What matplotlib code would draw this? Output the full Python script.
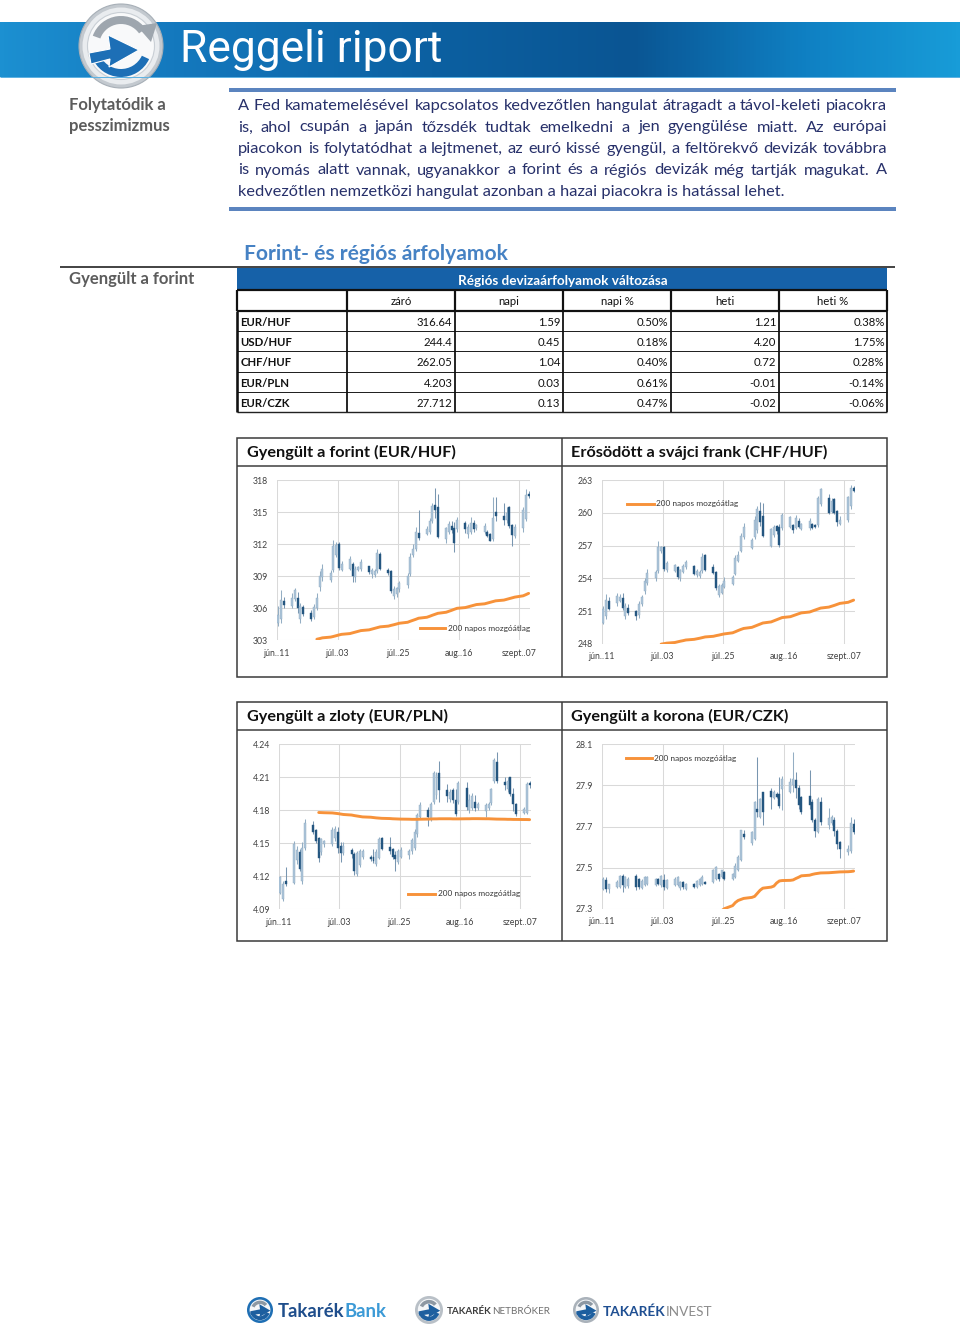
import datetime as dt
import numpy as np
import pandas as pd
import matplotlib
matplotlib.use('Agg')
import matplotlib.pyplot as plt
import matplotlib.dates as mdates
from matplotlib.patches import Rectangle, Circle, Polygon, Wedge
from matplotlib.lines import Line2D
from matplotlib.colors import LinearSegmentedColormap

FONT = ['Lato', 'DejaVu Sans']
plt.rcParams['font.family'] = FONT

# ---------------------------------------------------------------- data
trade_start = '2014-06-11'
trade_end = '2014-09-10'
xtick_dates = ['2014-06-11', '2014-07-03', '2014-07-25', '2014-08-16', '2014-09-07']
xtick_labels = ['jún..11', 'júl..03', 'júl..25', 'aug..16', 'szept..07']

eurhuf_open = [304.6, 305.0, 306.7, 306.2, 306.9, 307.0, 305.0, 306.1, 305.6, 305.2, 306.0, 308.0, 308.9,
               308.7, 309.6, 311.0, 312.0, 309.6, 309.7, 310.2, 308.9, 309.6, 309.7, 310.0, 309.2, 309.1, 309.5, 311.1,
               309.6, 309.5, 307.2, 307.3, 307.8, 308.2, 309.2, 311.0, 311.6, 313.1, 313.0, 313.2, 314.2, 315.7, 315.5,
               312.5, 313.2, 313.7, 313.5, 313.4, 314.0, 313.0, 313.2, 314.0, 313.5, 313.2, 313.2, 313.0, 312.5, 315.0,
               314.7, 314.3, 315.5, 313.8, 312.8, 313.5, 314.4, 316.7]
eurhuf_high = [306.2, 307.7, 307.1, 307.4, 307.9, 307.5, 306.5, 306.3, 305.8, 306.4, 307.4, 309.5, 310.2,
               309.6, 312.4, 312.2, 312.2, 310.4, 310.9, 310.3, 310.0, 310.0, 310.6, 310.0, 309.8, 309.7, 311.6, 311.3,
               309.8, 309.6, 308.1, 308.0, 308.6, 309.3, 311.2, 312.0, 313.6, 315.2, 313.7, 314.5, 315.9, 317.3, 316.7,
               313.6, 314.2, 314.2, 314.1, 314.6, 314.2, 313.9, 314.6, 314.3, 313.9, 314.0, 313.3, 313.1, 316.4, 316.4,
               315.9, 315.5, 315.6, 313.9, 313.9, 315.5, 317.2, 317.0]
eurhuf_low = [304.3, 304.6, 306.0, 306.0, 306.7, 305.6, 304.6, 305.3, 304.8, 305.0, 305.8, 307.6, 308.6,
              308.5, 309.4, 310.8, 309.6, 309.5, 309.6, 308.5, 308.5, 309.5, 309.5, 309.2, 308.8, 308.9, 309.3, 309.6,
              309.1, 307.4, 306.9, 307.1, 307.5, 307.9, 309.0, 310.8, 311.4, 312.4, 312.9, 313.0, 314.0, 314.5, 312.6,
              312.1, 313.0, 313.1, 311.3, 313.2, 313.1, 312.6, 313.0, 313.2, 313.3, 313.0, 312.7, 312.3, 312.3, 314.2,
              313.8, 314.0, 313.5, 311.8, 312.6, 313.2, 314.2, 316.3]
eurhuf_close = [305.4, 306.8, 306.3, 307.0, 307.7, 306.0, 306.2, 305.5, 305.0, 306.1, 307.0, 309.0, 309.7,
                309.3, 311.8, 311.9, 309.8, 310.2, 310.6, 309.0, 309.7, 309.9, 310.3, 309.4, 309.6, 309.5, 311.2, 309.7,
                309.3, 307.6, 307.8, 307.9, 308.4, 309.0, 310.8, 311.6, 313.2, 312.6, 313.4, 314.2, 315.6, 315.2, 312.7,
                313.5, 313.9, 313.3, 312.1, 314.3, 313.4, 313.6, 314.0, 313.4, 313.8, 313.7, 312.8, 312.3, 314.5, 314.7,
                314.3, 314.9, 313.7, 312.9, 313.6, 315.2, 316.6, 316.5]
eurhuf_ma_start = '2014-06-25'
eurhuf_ma = [303.10, 303.16, 303.23, 303.30, 303.36, 303.43, 303.50,
             303.56, 303.63, 303.70, 303.77, 303.84, 303.91, 303.98, 304.05, 304.12, 304.19, 304.26, 304.33,
             304.40, 304.46, 304.53, 304.60,
             304.69, 304.79, 304.88, 304.97, 305.07, 305.16, 305.25, 305.35, 305.44, 305.53, 305.63, 305.72,
             305.81, 305.91, 306.00,
             306.07, 306.14, 306.21, 306.28, 306.35, 306.42, 306.49, 306.56, 306.63, 306.70, 306.77, 306.84,
             306.91, 306.98, 307.05,
             307.17, 307.28, 307.40]

chfhuf_open = [249.9, 250.5, 251.9, 251.7, 251.9, 252.2, 250.5, 251.3, 251.0, 250.6, 251.6, 252.8, 253.6,
               254.0, 254.7, 256.5, 256.9, 254.8, 254.7, 255.0, 254.0, 254.6, 255.0, 255.1, 254.3, 254.2, 254.7, 256.1,
               255.0, 254.6, 252.5, 252.7, 253.2, 253.5, 254.4, 255.6, 256.5, 257.8, 256.8, 257.8, 258.4, 260.2, 259.7,
               257.0, 258.0, 258.8, 258.7, 258.6, 258.7, 258.9, 258.6, 259.3, 258.5, 258.6, 259.0, 258.9, 258.9, 260.8,
               261.4, 260.1, 261.3, 260.2, 259.0, 259.4, 260.6, 262.3]
chfhuf_high = [251.5, 252.6, 252.3, 252.7, 252.6, 252.7, 251.7, 251.6, 251.1, 251.9, 252.5, 254.0, 254.9,
               254.8, 257.4, 257.0, 257.0, 255.6, 255.3, 255.1, 254.9, 255.3, 255.7, 255.2, 254.9, 254.8, 256.3, 256.2,
               255.3, 254.7, 253.5, 253.6, 254.1, 254.3, 256.1, 256.5, 258.2, 259.1, 257.7, 259.7, 260.6, 261.0, 260.9,
               258.6, 258.9, 258.9, 259.0, 260.0, 259.7, 259.0, 259.8, 259.5, 259.1, 259.5, 259.1, 259.0, 261.6, 262.3,
               261.7, 261.4, 261.4, 260.3, 259.7, 261.6, 262.6, 262.5]
chfhuf_low = [249.8, 250.3, 251.1, 251.5, 251.8, 251.1, 250.3, 250.6, 250.2, 250.4, 251.5, 252.6, 253.4,
              253.8, 254.5, 256.3, 254.7, 254.6, 254.6, 253.9, 253.8, 254.5, 254.9, 254.3, 254.1, 254.0, 254.5, 254.7,
              254.4, 252.9, 252.3, 252.6, 253.1, 253.4, 254.3, 255.5, 256.4, 257.6, 256.7, 257.6, 258.2, 258.8, 257.8,
              256.9, 257.8, 258.1, 256.9, 258.4, 258.6, 258.2, 258.5, 258.6, 258.4, 258.4, 258.5, 258.6, 258.7, 260.6,
              259.9, 260.0, 259.9, 258.8, 258.9, 259.2, 260.4, 261.9]
chfhuf_close = [251.2, 252.0, 251.2, 252.4, 252.3, 251.3, 251.5, 250.8, 250.5, 251.6, 252.3, 253.8, 254.5,
                254.6, 256.9, 256.9, 254.9, 255.4, 255.2, 254.1, 254.8, 255.1, 255.5, 254.4, 254.7, 254.6, 256.0, 254.8,
                254.5, 253.1, 253.3, 253.4, 253.8, 254.1, 255.9, 256.1, 257.9, 258.7, 257.5, 259.4, 260.4, 259.2, 257.9,
                258.5, 258.7, 258.3, 257.1, 259.8, 259.6, 258.4, 259.5, 258.7, 259.0, 259.3, 258.6, 258.7, 261.4, 262.2,
                260.0, 261.1, 260.0, 259.2, 259.4, 261.5, 262.3, 262.0]
chfhuf_ma_start = '2014-07-02'
chfhuf_ma = [247.96, 248.00,
             248.05, 248.11, 248.17, 248.23, 248.28, 248.34, 248.40, 248.45, 248.50, 248.56, 248.62, 248.68,
             248.74, 248.79, 248.85, 248.90,
             249.00, 249.10, 249.21, 249.31, 249.40, 249.50, 249.60, 249.70, 249.80, 249.90, 250.00, 250.10,
             250.20, 250.30, 250.40,
             250.48, 250.57, 250.66, 250.75, 250.83, 250.91, 251.00, 251.09, 251.18, 251.27, 251.36, 251.44,
             251.52, 251.61, 251.70,
             251.80, 251.90, 252.00]

eurpln_open = [4.105, 4.099, 4.116, 4.114, 4.135, 4.142, 4.116, 4.146, 4.167, 4.162, 4.155, 4.142, 4.149,
               4.149, 4.155, 4.160, 4.148, 4.141, 4.144, 4.140, 4.122, 4.130, 4.138, 4.138, 4.138, 4.131, 4.137, 4.155,
               4.147, 4.145, 4.139, 4.133, 4.138, 4.139, 4.143, 4.146, 4.158, 4.174, 4.180, 4.172, 4.188, 4.194, 4.214,
               4.198, 4.190, 4.198, 4.189, 4.188, 4.200, 4.180, 4.182, 4.188, 4.182, 4.179, 4.182, 4.187, 4.207, 4.224,
               4.206, 4.199, 4.210, 4.195, 4.186, 4.178, 4.178, 4.205]
eurpln_high = [4.120, 4.116, 4.128, 4.152, 4.148, 4.145, 4.151, 4.172, 4.170, 4.163, 4.156, 4.155, 4.153,
               4.165, 4.166, 4.165, 4.151, 4.151, 4.146, 4.142, 4.143, 4.145, 4.145, 4.139, 4.145, 4.145, 4.156, 4.156,
               4.156, 4.146, 4.143, 4.145, 4.147, 4.145, 4.155, 4.163, 4.178, 4.188, 4.183, 4.188, 4.216, 4.215, 4.225,
               4.204, 4.199, 4.200, 4.199, 4.207, 4.206, 4.195, 4.196, 4.194, 4.188, 4.187, 4.188, 4.200, 4.228, 4.233,
               4.210, 4.210, 4.210, 4.200, 4.187, 4.183, 4.206, 4.207]
eurpln_low = [4.104, 4.098, 4.111, 4.113, 4.131, 4.125, 4.113, 4.144, 4.158, 4.150, 4.133, 4.139, 4.147,
              4.148, 4.152, 4.141, 4.133, 4.139, 4.137, 4.121, 4.120, 4.128, 4.136, 4.134, 4.132, 4.129, 4.136, 4.144,
              4.140, 4.136, 4.125, 4.131, 4.137, 4.136, 4.140, 4.144, 4.156, 4.172, 4.166, 4.170, 4.186, 4.190, 4.188,
              4.188, 4.188, 4.187, 4.175, 4.186, 4.180, 4.178, 4.180, 4.179, 4.180, 4.174, 4.180, 4.185, 4.205, 4.205,
              4.198, 4.197, 4.193, 4.179, 4.175, 4.177, 4.177, 4.200]
eurpln_close = [4.119, 4.113, 4.113, 4.149, 4.144, 4.127, 4.146, 4.168, 4.160, 4.152, 4.137, 4.154, 4.152,
                4.162, 4.163, 4.146, 4.141, 4.148, 4.140, 4.125, 4.141, 4.143, 4.143, 4.136, 4.134, 4.142, 4.154, 4.145,
                4.143, 4.138, 4.136, 4.143, 4.144, 4.143, 4.153, 4.160, 4.176, 4.185, 4.174, 4.186, 4.214, 4.212, 4.198,
                4.193, 4.197, 4.189, 4.177, 4.205, 4.183, 4.189, 4.193, 4.182, 4.186, 4.185, 4.186, 4.199, 4.226, 4.207,
                4.203, 4.207, 4.195, 4.186, 4.177, 4.181, 4.204, 4.203]
eurpln_ma_start = '2014-06-25'
eurpln_ma = [4.1780, 4.1779, 4.1778, 4.1776, 4.1773, 4.1770, 4.1766,
             4.1762, 4.1757, 4.1752, 4.1748, 4.1744, 4.1740, 4.1737, 4.1734, 4.1731, 4.1729, 4.1727, 4.1725,
             4.1723, 4.1722, 4.1721, 4.1720,
             4.1719, 4.1718, 4.1718, 4.1718, 4.1719, 4.1720, 4.1721, 4.1722, 4.1722, 4.1723, 4.1723, 4.1723,
             4.1722, 4.1722, 4.1722,
             4.1723, 4.1723, 4.1724, 4.1724, 4.1724, 4.1723, 4.1723, 4.1722, 4.1721, 4.1720, 4.1719, 4.1718,
             4.1718, 4.1717, 4.1717,
             4.1716, 4.1716, 4.1715]

eurczk_open = [27.397, 27.438, 27.398, 27.405, 27.405, 27.460, 27.405, 27.410, 27.460, 27.445, 27.400, 27.415, 27.420,
               27.415, 27.445, 27.415, 27.440, 27.400, 27.415, 27.415, 27.400, 27.430, 27.397, 27.420, 27.405, 27.415,
               27.420, 27.430, 27.430, 27.445, 27.470, 27.455, 27.480, 27.445, 27.455, 27.490, 27.535, 27.665, 27.618,
               27.640, 27.787, 27.745, 27.868, 27.875, 27.840, 27.860, 27.860, 27.884, 27.868, 27.900, 27.925, 27.885,
               27.845, 27.850, 27.820, 27.730, 27.675, 27.820, 27.708, 27.715, 27.730, 27.680, 27.625, 27.576, 27.580,
               27.712]
eurczk_high = [27.453, 27.454, 27.421, 27.440, 27.465, 27.470, 27.460, 27.455, 27.468, 27.450, 27.445, 27.458, 27.460,
               27.450, 27.450, 27.465, 27.468, 27.445, 27.455, 27.460, 27.435, 27.435, 27.425, 27.425, 27.440, 27.450,
               27.465, 27.433, 27.495, 27.510, 27.475, 27.490, 27.485, 27.475, 27.520, 27.560, 27.685, 27.682, 27.680,
               27.822, 28.040, 27.840, 27.870, 27.885, 27.880, 27.870, 27.940, 27.945, 27.935, 28.063, 27.965, 27.900,
               27.850, 27.975, 27.835, 27.740, 27.845, 27.845, 27.790, 27.755, 27.745, 27.690, 27.630, 27.608, 27.745,
               27.738]
eurczk_low = [27.389, 27.381, 27.374, 27.400, 27.400, 27.380, 27.400, 27.400, 27.390, 27.395, 27.395, 27.410, 27.415,
              27.410, 27.415, 27.405, 27.390, 27.395, 27.410, 27.410, 27.390, 27.395, 27.390, 27.400, 27.400, 27.410,
              27.415, 27.418, 27.425, 27.440, 27.435, 27.450, 27.440, 27.440, 27.450, 27.485, 27.530, 27.640, 27.610,
              27.635, 27.745, 27.740, 27.705, 27.785, 27.835, 27.840, 27.790, 27.780, 27.865, 27.870, 27.840, 27.785,
              27.760, 27.785, 27.720, 27.650, 27.670, 27.705, 27.690, 27.705, 27.655, 27.590, 27.545, 27.560, 27.570,
              27.665]
eurczk_close = [27.445, 27.397, 27.421, 27.430, 27.460, 27.413, 27.455, 27.445, 27.405, 27.407, 27.437, 27.453, 27.453,
                27.445, 27.420, 27.460, 27.405, 27.440, 27.445, 27.453, 27.430, 27.405, 27.420, 27.405, 27.435, 27.445,
                27.453, 27.422, 27.487, 27.503, 27.445, 27.487, 27.445, 27.470, 27.510, 27.552, 27.682, 27.650, 27.675,
                27.818, 27.771, 27.835, 27.771, 27.845, 27.868, 27.845, 27.802, 27.933, 27.917, 27.930, 27.885, 27.803,
                27.770, 27.803, 27.730, 27.680, 27.835, 27.722, 27.740, 27.745, 27.680, 27.615, 27.592, 27.592, 27.715,
                27.673]
eurczk_ma_start = '2014-07-24'
eurczk_ma = [27.290, 27.300, 27.315, 27.330, 27.340, 27.345, 27.350, 27.355, 27.360, 27.375,
             27.390, 27.400, 27.405, 27.410, 27.425, 27.435, 27.437, 27.438, 27.440, 27.447,
             27.453, 27.460, 27.463, 27.467, 27.470, 27.472, 27.474, 27.475, 27.476, 27.477,
             27.478, 27.479, 27.480, 27.481, 27.483]

table_pairs = ['EUR/HUF', 'USD/HUF', 'CHF/HUF', 'EUR/PLN', 'EUR/CZK']
table_columns = ['záró', 'napi', 'napi %', 'heti', 'heti %']
table_zaro = ['316.64', '244.4', '262.05', '4.203', '27.712']
table_napi = ['1.59', '0.45', '1.04', '0.03', '0.13']
table_napi_pct = ['0.50%', '0.18%', '0.40%', '0.61%', '0.47%']
table_heti = ['1.21', '4.20', '0.72', '-0.01', '-0.02']
table_heti_pct = ['0.38%', '1.75%', '0.28%', '-0.14%', '-0.06%']

paragraph = ['A Fed kamatemelésével kapcsolatos kedvezőtlen hangulat átragadt a távol-keleti piacokra',
             'is, ahol csupán a japán tőzsdék tudtak emelkedni a jen gyengülése miatt. Az európai',
             'piacokon is folytatódhat a lejtmenet, az euró kissé gyengül, a feltörekvő devizák továbbra',
             'is nyomás alatt vannak, ugyanakkor a forint és a régiós devizák még tartják magukat. A',
             'kedvezőtlen nemzetközi hangulat azonban a hazai piacokra is hatással lehet.']

# ---------------------------------------------------------------- page
W, H = 960, 1329
fig = plt.figure(figsize=(W / 100, H / 100), dpi=100)
fig.patch.set_facecolor('white')
bg = fig.add_axes([0, 0, 1, 1])
bg.set_xlim(0, W)
bg.set_ylim(H, 0)
bg.axis('off')
R = fig.canvas.get_renderer()


def tw(s, size, weight='normal', family=None):
    t = bg.text(0, 0, s, fontsize=size, fontweight=weight, family=family or FONT)
    w = t.get_window_extent(renderer=R).width
    t.remove()
    return w


def fit(s, width, weight='normal', family=None):
    return 20.0 * width / tw(s, 20, weight, family)


def hline(x0, x1, y, color, px):
    bg.add_line(Line2D([x0, x1], [y, y], color=color, lw=px * 0.72, solid_capstyle='butt', zorder=5))


def vline(x, y0, y1, color, px):
    bg.add_line(Line2D([x, x], [y0, y1], color=color, lw=px * 0.72, solid_capstyle='butt', zorder=5))


# header band
cmap = LinearSegmentedColormap.from_list('hdr', [(0, '#1c90d1'), (0.18, '#1479be'), (0.45, '#0c60a1'),
                                                 (0.66, '#0a5593'), (0.84, '#0f80c3'), (1, '#189cd8')])
bg.imshow(np.linspace(0, 1, 480)[None, :], extent=[0, W, 77, 22], cmap=cmap, aspect='auto', zorder=1)
hline(0, W, 76.5, '#5fb2e2', 1)

# logo
cx, cy = 121, 46
bg.add_patch(Circle((cx, cy), 42, fc='#c3c9cf', ec='#a7afb7', lw=0.8, zorder=3))
bg.add_patch(Circle((cx, cy), 38.5, fc='#e9ecef', ec='none', zorder=3))
bg.add_patch(Circle((cx, cy), 33.5, fc='#f8f9fa', ec='#c9cfd5', lw=0.8, zorder=3))
bg.add_patch(Wedge((cx, cy), 30, 200, 325, width=8, fc='#9ea6ae', ec='none', zorder=4))
bg.add_patch(Polygon([(137, 26), (157, 23), (151, 42)], closed=True, fc='#9ea6ae', ec='none', zorder=4))
bg.add_patch(Wedge((cx, cy), 31, 25, 160, width=8, fc='#1d6fb6', ec='none', zorder=4))
bg.add_patch(Polygon([(89, 53), (110, 49), (108, 35), (139, 50), (109, 67), (110, 59), (91, 64)],
                     closed=True, fc='#1d6fb6', ec='white', lw=0.8, zorder=5))

# title text in band
s_title = fit('Reggeli riport', 262, 'normal', ['Roboto', 'DejaVu Sans'])
bg.text(180, 62, 'Reggeli riport', fontsize=s_title, color='white', family=['Roboto', 'DejaVu Sans'],
        ha='left', va='baseline', zorder=6)

# left side headings
s_side = fit('Folytatódik a', 97, 'bold')
bg.text(69, 110, 'Folytatódik a', fontsize=s_side, fontweight='bold', color='#5c5c5c', va='baseline')
bg.text(69, 131.5, 'pesszimizmus', fontsize=s_side, fontweight='bold', color='#5c5c5c', va='baseline')
bg.text(69, 284, 'Gyengült a forint', fontsize=s_side, fontweight='bold', color='#5c5c5c', va='baseline')

# paragraph box
hline(229, 896, 89.5, '#5b84bf', 4)
hline(229, 896, 208.5, '#5b84bf', 4)
PX0, PX1 = 238, 887
s_par = fit(paragraph[-1], 549)
s_par = min(s_par, min(fit(l, 647) for l in paragraph[:-1]))
baselines = [110, 131.5, 153, 174.5, 196]
pcol = '#27306a'
for i, line in enumerate(paragraph):
    if i == len(paragraph) - 1:
        bg.text(PX0, baselines[i], line, fontsize=s_par, color=pcol, va='baseline')
        continue
    words = line.split(' ')
    widths = [tw(w, s_par) for w in words]
    gap = (PX1 - PX0 - sum(widths)) / (len(words) - 1)
    x = PX0
    for w, wd in zip(words, widths):
        bg.text(x, baselines[i], w, fontsize=s_par, color=pcol, va='baseline')
        x += wd + gap

# section title
s_sec = fit('Forint- és régiós árfolyamok', 263, 'bold')
bg.text(244, 260.5, 'Forint- és régiós árfolyamok', fontsize=s_sec, fontweight='bold', color='#4682c4',
        va='baseline')
hline(60, 895, 267, '#1a1a1a', 1.6)

# table
cols = [237, 347, 455, 563, 671, 779, 887]
row_y = [310.7, 331.0, 351.3, 371.7, 392.0, 412.3]
bg.add_patch(Rectangle((237, 268), 650, 21.3, fc='#1661a8', ec='none', zorder=2))
s_th = fit('Régiós devizaárfolyamok változása', 209, 'bold')
bg.text(563, 285, 'Régiós devizaárfolyamok változása', fontsize=s_th, fontweight='bold', color='white',
        ha='center', va='baseline', zorder=6)
hline(237, 887, 289.6, '#111111', 2.2)
hline(237, 887, 310.7, '#111111', 2.2)
for x in cols:
    vline(x, 289.6, 310.7, '#111111', 2.2)
for y in row_y[1:-1]:
    hline(237, 887, y, '#222222', 1.0)
hline(237, 887, row_y[-1], '#222222', 1.4)
for x in cols:
    vline(x, 310.7, row_y[-1], '#111111', 2.6 if x == 237 else 1.8)
TS = 8.2
for j, name in enumerate(table_columns):
    bg.text((cols[j + 1] + cols[j + 2]) / 2, 305, name, fontsize=TS, color='#111111', ha='center',
            va='baseline')
data_cols = [table_zaro, table_napi, table_napi_pct, table_heti, table_heti_pct]
for i, pair in enumerate(table_pairs):
    yb = row_y[i] + 15.2
    bg.text(240.5, yb, pair, fontsize=TS, fontweight='bold', color='#111111', va='baseline')
    for j, col in enumerate(data_cols):
        bg.text(cols[j + 2] - 2.5, yb, col[i], fontsize=TS, color='#111111', ha='right', va='baseline')

# chart frames
for (y0, y1, ysep) in [(438, 677, 465.5), (702, 941, 729.5)]:
    bg.add_patch(Rectangle((237, y0), 650, y1 - y0, fc='none', ec='#3a3a3a', lw=1.1, zorder=5))
    vline(562, y0, y1, '#3a3a3a', 1.5)
    hline(237, 887, ysep, '#3a3a3a', 1.5)

s_ct = fit('Gyengült a forint (EUR/HUF)', 208, 'bold')
chart_titles = [(247, 457, 'Gyengült a forint (EUR/HUF)'), (571, 457, 'Erősödött a svájci frank (CHF/HUF)'),
                (247, 721, 'Gyengült a zloty (EUR/PLN)'), (571, 721, 'Gyengült a korona (EUR/CZK)')]
for x, y, t in chart_titles:
    bg.text(x, y, t, fontsize=s_ct, fontweight='bold', color='#111111', va='baseline')

# ---------------------------------------------------------------- candlestick charts
days = pd.bdate_range(trade_start, trade_end)
xdays = mdates.date2num(days.to_pydatetime()) + 0.5
x_left = mdates.date2num(dt.datetime(2014, 6, 11))
x_right = mdates.date2num(dt.datetime(2014, 9, 11))
xticks = mdates.date2num([dt.datetime.strptime(d, '%Y-%m-%d') for d in xtick_dates])
s_leg = fit('200 napos mozgóátlag', 82)

charts = [
    dict(o=eurhuf_open, h=eurhuf_high, l=eurhuf_low, c=eurhuf_close, ma=eurhuf_ma, ma_start=eurhuf_ma_start,
         box=(277, 480.3, 530, 640.3), ylim=(303, 318), yticks=[303, 306, 309, 312, 315, 318], fmt='{:.0f}',
         leg=(420, 445, 628)),
    dict(o=chfhuf_open, h=chfhuf_high, l=chfhuf_low, c=chfhuf_close, ma=chfhuf_ma, ma_start=chfhuf_ma_start,
         box=(602, 480.3, 855, 643.7), ylim=(248, 263), yticks=[248, 251, 254, 257, 260, 263], fmt='{:.0f}',
         leg=(627, 654, 503.5)),
    dict(o=eurpln_open, h=eurpln_high, l=eurpln_low, c=eurpln_close, ma=eurpln_ma, ma_start=eurpln_ma_start,
         box=(279, 744.3, 531, 909.3), ylim=(4.09, 4.24), yticks=[4.09, 4.12, 4.15, 4.18, 4.21, 4.24],
         fmt='{:.2f}', leg=(408, 435, 893.5)),
    dict(o=eurczk_open, h=eurczk_high, l=eurczk_low, c=eurczk_close, ma=eurczk_ma, ma_start=eurczk_ma_start,
         box=(602, 744.3, 855, 908.7), ylim=(27.3, 28.1), yticks=[27.3, 27.5, 27.7, 27.9, 28.1], fmt='{:.1f}',
         leg=(626, 652, 758)),
]

UP, DOWN, WICK = '#adc5d9', '#245680', '#94aec4'
for ch in charts:
    O, Hh, L, C = (np.array(ch[k], dtype=float) for k in ('o', 'h', 'l', 'c'))
    assert len(O) == len(Hh) == len(L) == len(C) == len(days)
    x0, y0, x1, y1 = ch['box']
    ax = fig.add_axes([x0 / W, 1 - y1 / H, (x1 - x0) / W, (y1 - y0) / H])
    ax.set_facecolor('none')
    span = ch['ylim'][1] - ch['ylim'][0]
    up = C >= O
    ax.vlines(xdays, L, Hh, colors=np.where(up, WICK, '#7896b0'), lw=0.75, zorder=2)
    ax.bar(xdays, np.maximum(np.abs(C - O), span * 0.006), bottom=np.minimum(O, C), width=0.72,
           color=np.where(up, UP, DOWN), edgecolor=np.where(up, '#8eaac2', DOWN), lw=0.3, zorder=3)
    ma_days = pd.bdate_range(ch['ma_start'], trade_end)
    assert len(ma_days) == len(ch['ma'])
    ax.plot(mdates.date2num(ma_days.to_pydatetime()) + 0.5, ch['ma'], color='#f7923a', lw=2.1,
            solid_capstyle='round', zorder=4)
    ax.set_xlim(x_left, x_right)
    ax.set_ylim(*ch['ylim'])
    ax.set_xticks(xticks)
    ax.set_xticklabels(xtick_labels)
    ax.set_yticks(ch['yticks'])
    ax.set_yticklabels([ch['fmt'].format(v) for v in ch['yticks']])
    ax.tick_params(length=0, labelsize=6.3, colors='#404040', pad=6.3)
    ax.grid(True, color='#d9d9d9', lw=0.75)
    ax.set_axisbelow(True)
    for s in ax.spines.values():
        s.set_visible(False)
    lx0, lx1, ly = ch['leg']
    ax.add_line(Line2D([lx0, lx1], [ly, ly], color='#f7923a', lw=2.1, transform=bg.transData, clip_on=False,
                       zorder=6))
    ax.text(lx1 + 2.5, ly, '200 napos mozgóátlag', fontsize=s_leg, color='#333333', va='center', ha='left',
            transform=bg.transData, zorder=6)

# ---------------------------------------------------------------- footer logos


def icon(x, y, r, ring):
    bg.add_patch(Circle((x, y), r, fc=ring, ec='none', zorder=3))
    bg.add_patch(Circle((x, y), r * 0.8, fc='#f4f6f8', ec='none', zorder=3))
    bg.add_patch(Wedge((x, y), r * 0.78, 20, 165, width=r * 0.3, fc='#1d5f9f', ec='none', zorder=4))
    bg.add_patch(Wedge((x, y), r * 0.72, 205, 320, width=r * 0.26, fc='#8d98a3', ec='none', zorder=4))
    bg.add_patch(Polygon([(x - r * 0.75, y + r * 0.1), (x, y - r * 0.05), (x - r * 0.05, y - r * 0.45),
                          (x + r * 0.8, y + r * 0.05), (x - r * 0.05, y + r * 0.55), (x, y + r * 0.3),
                          (x - r * 0.7, y + r * 0.4)], closed=True, fc='#1d5f9f', ec='none', zorder=5))


icon(260, 1310, 13, '#1f6fb4')
icon(429, 1310, 14, '#b9c0c7')
icon(586, 1310, 13, '#aab2ba')

s_f1 = fit('TakarékBank', 108, 'bold')
w1 = tw('Takarék', s_f1, 'bold')
bg.text(278, 1317, 'Takarék', fontsize=s_f1, fontweight='bold', color='#1f4e8c', va='baseline')
bg.text(278 + w1, 1317, 'Bank', fontsize=s_f1, fontweight='bold', color='#3c9ad6', va='baseline')

s_f2 = 20.0 * 103 / (tw('TAKARÉK', 20, 'bold') + tw('NETBRÓKER', 20))
w2 = tw('TAKARÉK', s_f2, 'bold')
bg.text(447, 1314, 'TAKARÉK', fontsize=s_f2, fontweight='bold', color='#3d3d3d', va='baseline')
bg.text(447 + w2, 1314, 'NETBRÓKER', fontsize=s_f2, color='#707070', va='baseline')

s_f3 = 20.0 * 109 / (tw('TAKARÉK', 20, 'bold') + tw('INVEST', 20))
w3 = tw('TAKARÉK', s_f3, 'bold')
bg.text(603, 1316, 'TAKARÉK', fontsize=s_f3, fontweight='bold', color='#1f4f92', va='baseline')
bg.text(603 + w3, 1316, 'INVEST', fontsize=s_f3, color='#8c8c8c', va='baseline')

bg.set_xlim(0, W)
bg.set_ylim(H, 0)
fig.savefig('out.png', dpi=100, facecolor='white')
